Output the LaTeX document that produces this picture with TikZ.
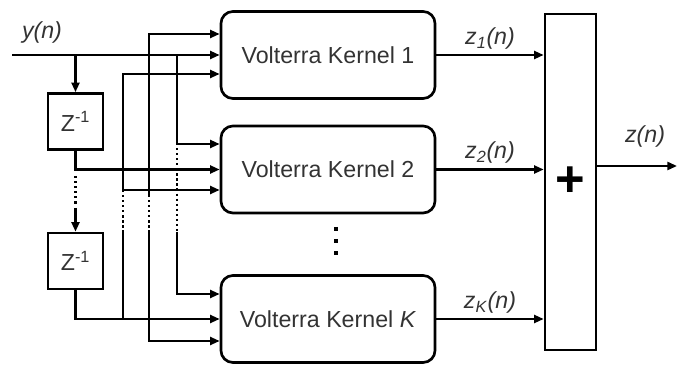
\documentclass[tikz,border=0pt]{standalone}
\usepackage{fontspec}
\setmainfont{Liberation Sans}
\usetikzlibrary{arrows.meta}

\begin{document}
\begin{tikzpicture}[
		x=0.025cm, y=-0.025cm,
		>={Triangle[length=2.4mm,width=2mm]},
		every node/.style={font=\fontsize{16.5}{19}\selectfont, text=black!80},
		kernel/.style={draw, line width=1.9pt, rounded corners=0.3cm, minimum width=5.35cm, minimum height=2.175cm},
		delay/.style={draw, line width=1.9pt, minimum width=1.375cm, minimum height=1.4cm},
		adder/.style={draw, line width=1.9pt, minimum width=1.275cm, minimum height=8.4cm},
		sig/.style={line width=1.6pt},
		gap/.style={sig, dotted}
	]
	\useasboundingbox (0,0) rectangle (677,365);

	% blocks
	\node[kernel] (k1) at (328,55) {Volterra Kernel 1};
	\node[kernel] (k2) at (328,169.5) {Volterra Kernel 2};
	\node[kernel] (kK) at (328,319) {Volterra Kernel \textit{K}};
	\node[delay] (d1) at (75.5,121.5) {Z\textsuperscript{-1}};
	\node[delay] (d2) at (75.5,261) {Z\textsuperscript{-1}};
	\node[adder, font=\fontsize{36}{36}\bfseries, text=black] (sum) at (570.5,182) {+};

	% taps
	\coordinate (yin) at (12,55);
	\coordinate (zout) at (677,166);
	\coordinate (tA) at (123,319);
	\coordinate (a1) at (123,190);
	\coordinate (a2) at (123,232);
	\coordinate (b1) at (149,195);
	\coordinate (b2) at (149,232);
	\coordinate (c0) at (177,55);
	\coordinate (c1) at (177,148);
	\coordinate (c2) at (177,232);

	% delay line
	\draw[sig,->] (yin) -- (k1.west);
	\draw[sig,->] (d1.north |- yin) -- (d1.north);
	\draw[sig,->] (d1.south) |- (k2.west);
	\draw[gap] (d1.south |- 0,176) -- (d1.south |- 0,206);
	\draw[sig,->] (d1.south |- 0,208) -- (d2.north);
	\draw[sig,->] (d2.south) |- (kK.west);

	% kernel inputs
	\draw[sig,->] (a1) |- (k1.west |- 0,74);
	\draw[sig,->] (a1) -- (k2.west |- a1);
	\draw[gap] (a1) -- (a2);
	\draw[sig] (a2) -- (tA);
	\draw[sig,->] (b1) |- (k1.west |- 0,34);
	\draw[gap] (b1) -- (b2);
	\draw[sig,->] (b2) |- (kK.west |- 0,341);
	\draw[sig,->] (c0) |- (k2.west |- 0,144);
	\draw[gap] (c1) -- (c2);
	\draw[sig,->] (c2) |- (kK.west |- 0,294);

	% outputs
	\draw[sig,->] (k1.east) -- (sum.west |- k1.east) node[midway,above] (z1) {\textit{z}\textsubscript{\textit{1}}\textit{(n)}};
	\draw[sig,->] (k2.east) -- (sum.west |- k2.east) node[midway,above] (z2) {\textit{z}\textsubscript{\textit{2}}\textit{(n)}};
	\draw[sig,->] (kK.east) -- (sum.west |- kK.east) node[midway,above] (zK) {\textit{z}\textsubscript{\textit{K}}\textit{(n)}};
	\draw[sig,->] (sum.east |- zout) -- (zout);
	\node (zlab) at (645,137) {\textit{z(n)}};
	\node (ylab) at (42,33) {\textit{y(n)}};

	\draw[line width=0.1cm, dash pattern=on 0.1cm off 0.2cm] (336,227) -- (336,255);
\end{tikzpicture}
\end{document}
